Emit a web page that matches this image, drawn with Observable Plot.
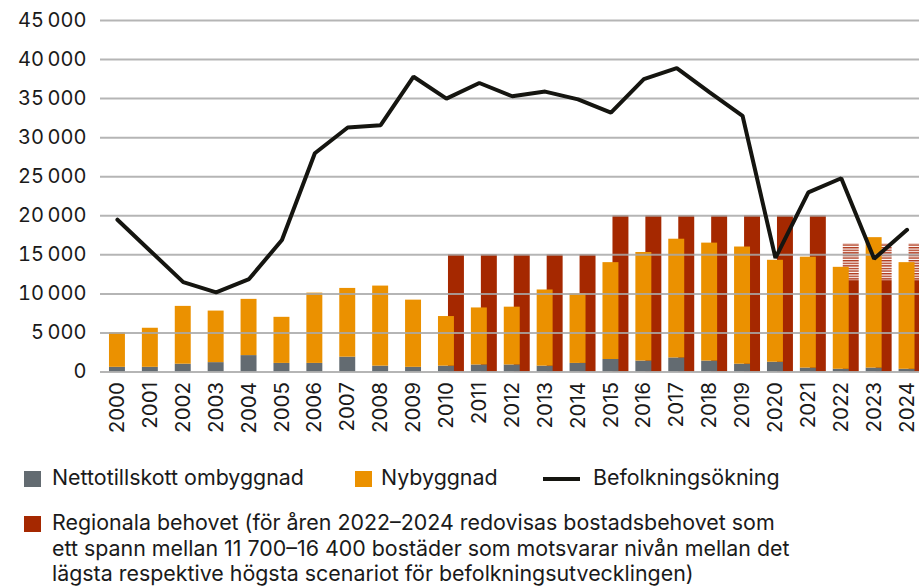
<!DOCTYPE html>
<html><head><meta charset="utf-8">
<script src="https://cdn.jsdelivr.net/npm/d3@7"></script>
<script src="https://cdn.jsdelivr.net/npm/@observablehq/plot@0.6"></script>
<style>
body{margin:0;background:#fff;overflow:hidden;font-family:Inter, sans-serif;color:#1a1a1a}
#wrap{position:relative;width:919px;height:588px;overflow:hidden}
.lg{position:absolute;font-size:21.4px;line-height:25.5px;white-space:nowrap;color:#1a1a1a}
.sw{position:absolute;width:17px;height:16px}
.ln{position:absolute;width:37px;height:4px;background:#151510}
</style></head><body><div id="wrap"><div id="chart"></div>
<div class="sw" style="left:24px;top:471px;background:#636b71"></div>
<div class="lg" style="left:52px;top:465px">Nettotillskott ombyggnad</div>
<div class="sw" style="left:355px;top:471px;background:#eb9100"></div>
<div class="lg" style="left:381px;top:465px">Nybyggnad</div>
<div class="ln" style="left:543px;top:477px"></div>
<div class="lg" style="left:593px;top:465px">Befolkningsökning</div>
<div class="sw" style="left:24px;top:516px;background:#a52800"></div>
<div class="lg" style="left:52px;top:510px">Regionala behovet (för åren 2022–2024 redovisas bostadsbehovet som<br>ett spann mellan 11 700–16 400 bostäder som motsvarar nivån mellan det<br>lägsta respektive högsta scenariot för befolkningsutvecklingen)</div>
</div>
<script>
const years = [2000,2001,2002,2003,2004,2005,2006,2007,2008,2009,2010,2011,2012,2013,2014,2015,2016,2017,2018,2019,2020,2021,2022,2023,2024];
const ombyggnad = [600,600,1000,1200,2100,1100,1100,1900,750,600,750,900,900,750,1100,1600,1400,1800,1400,1000,1250,500,350,500,350];
const nybyggnad = [4400,5000,7400,6600,7200,5900,9000,8800,10250,8600,6350,7300,7400,9750,8900,12400,13900,15200,15100,15000,13050,14200,13050,16700,13650];
const regionalt = [null,null,null,null,null,null,null,null,null,null,15000,15000,15000,15000,15000,20000,20000,20000,20000,20000,20000,20000,11700,11700,11700];
const spannHog = [null,null,null,null,null,null,null,null,null,null,null,null,null,null,null,null,null,null,null,null,null,null,16400,16400,16400];
const befolkning = [19500,15500,11500,10200,11900,16900,28000,31300,31600,37800,35000,37000,35300,35900,34900,33200,37500,38900,35800,32800,14600,23000,24800,14500,18200];
const yTicks = [0,5000,10000,15000,20000,25000,30000,35000,40000,45000];

const rows = years.map((y,i)=>({year:String(y), omb:ombyggnad[i], ny:nybyggnad[i], reg:regionalt[i], high:spannHog[i], bef:befolkning[i]}));
const fmt = d => d === 0 ? "0" : d3.format(",")(d).replace(/,/g, "\u2009");

const plot = Plot.plot({
  width:919, height:440, marginTop:20, marginBottom:68.5, marginLeft:100, marginRight:0,
  x:{type:"band", domain: rows.map(d=>d.year), range:[100.5,923], paddingInner:0.515, paddingOuter:0.2575, round:false, axis:null, label:null},
  y:{domain:[0,45000], range:[371.5,20], axis:null, label:null},
  style:{fontFamily:"Inter, sans-serif", fontSize:"20px", color:"#1a1a1a", background:"transparent", overflow:"visible"},
  marks:[
    Plot.barY(rows.filter(d=>d.reg!=null), {x:"year", y1:0, y2:"reg", fill:"#a52800", dx:10}),
    Plot.barY(rows.filter(d=>d.high!=null), {x:"year", y1:"reg", y2:"high", fill:"url(#hatch)", dx:10}),
    Plot.barY(rows, {x:"year", y1:0, y2:"omb", fill:"#636b71"}),
    Plot.barY(rows, {x:"year", y1:"omb", y2:d=>d.omb+d.ny, fill:"#eb9100"}),
    Plot.ruleY(yTicks, {stroke:"#a8a8a8", strokeWidth:2, strokeOpacity:0.85}),
    Plot.axisY({ticks:yTicks, tickSize:0, tickPadding:14, tickFormat:fmt, fontSize:20, label:null}),
    Plot.axisX({tickRotate:-90, tickSize:0, tickPadding:10, fontSize:20.5, label:null}),
    Plot.lineY(rows, {x:"year", y:"bef", stroke:"#151510", strokeWidth:4, strokeLinejoin:"miter"})
  ]
});
d3.select(plot).insert("defs", ":first-child").html('<pattern id="hatch" patternUnits="userSpaceOnUse" width="4" height="2.6"><rect width="4" height="2.6" fill="#ffffff"/><rect width="4" height="1.4" fill="#b0391c"/></pattern>');
document.getElementById("chart").appendChild(plot);
</script>
</body></html>
